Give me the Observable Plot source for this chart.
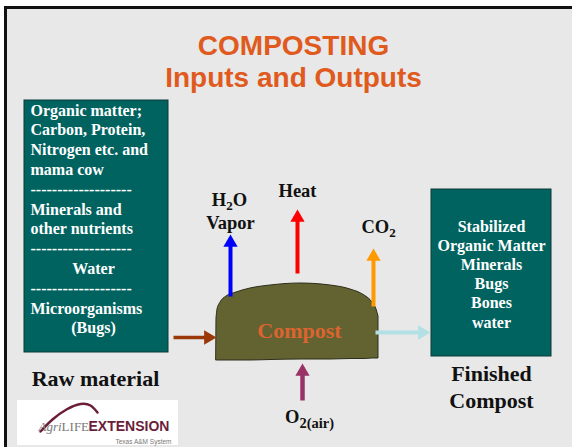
<!DOCTYPE html>
<html><head><meta charset="utf-8">
<script src="https://cdn.jsdelivr.net/npm/d3@7"></script>
<script src="https://cdn.jsdelivr.net/npm/@observablehq/plot@0.6"></script>
<style>html,body{margin:0;padding:0;background:#fff;overflow:hidden}</style>
</head><body><div id="chart"></div>
<script>
// ---- content ----
const titleLines = ["COMPOSTING", "Inputs and Outputs"];
const inputLines = ["Organic matter;", "Carbon, Protein,", "Nitrogen etc. and", "mama cow",
  "-------------------", "Minerals and", "other nutrients", "-------------------",
  "Water", "-------------------", "Microorganisms", "(Bugs)"];
const inputCentered = ["Water", "(Bugs)"];
const outputLines = ["Stabilized", "Organic Matter", "Minerals", "Bugs", "Bones", "water"];
const rawLabel = "Raw material";
const processLabel = "Compost";
const finishedLabel = ["Finished", "Compost"];
const heatLabel = "Heat";
const vaporLabel = "Vapor";
const h2oParts = [["H", false], ["2", true], ["O", false]];
const co2Parts = [["CO", false], ["2", true]];
const o2Parts = [["O", false], ["2(air)", true]];
const logoParts = [["Agri", "italic"], ["LIFE", "normal"]];
const logoWord = "EXTENSION";
const logoSub = "Texas A&M System";

// ---- diagram geometry ----
const moundX = [216, 217, 220, 226, 236, 250, 270, 300, 330, 350, 364, 372, 376, 378];
const moundTop = [318, 309, 302, 296, 292, 288, 285, 283, 285, 289, 295, 302, 309, 316];
const moundBottom = [360, 360, 360, 360, 360, 360, 359.5, 359, 359, 358.5, 358.5, 358, 358, 358];
const arrows = [
  {id: "input", x1: 173, y1: 337, x2: 216, y2: 337, w: 3.5},
  {id: "h2o", x1: 230, y1: 296, x2: 230, y2: 234, w: 4},
  {id: "heat", x1: 297, y1: 273, x2: 297, y2: 209, w: 4},
  {id: "co2", x1: 373, y1: 306, x2: 373, y2: 248, w: 4},
  {id: "output", x1: 375, y1: 332, x2: 430, y2: 332, w: 4},
  {id: "o2", x1: 302, y1: 400, x2: 302, y2: 363, w: 4.5}
];
const arrowColors = {input: "#9a3808", h2o: "#0000ff", heat: "#ff0000", co2: "#ff9900", output: "#b2e0e4", o2: "#993366"};
const logoArc = [[40, 431], [52, 419], [66, 409], [80, 403.5], [90, 405], [97, 412]];

// ---- layout helpers ----
const ctx = document.createElement("canvas").getContext("2d");
function measure(t, font) { ctx.font = font; return ctx.measureText(t).width; }
const SERIF = "Liberation Serif, Times New Roman, serif";
const SANS = "Liberation Sans, Arial, sans-serif";

function partsLayout(parts, startX, baseY, bigSize, subSize, subDrop) {
  let x = startX; const out = [];
  for (const [t, sub] of parts) {
    const size = sub ? subSize : bigSize;
    out.push({t, x, y: sub ? baseY + subDrop : baseY, size});
    x += measure(t, `bold ${size}px ${SERIF}`);
  }
  return out;
}
function partsWidth(parts, bigSize, subSize) {
  return d3.sum(parts, ([t, sub]) => measure(t, `bold ${sub ? subSize : bigSize}px ${SERIF}`));
}
const h2oW = partsWidth(h2oParts, 18.5, 13);
const co2W = partsWidth(co2Parts, 18.5, 13);
const o2W = partsWidth(o2Parts, 18.5, 14.5);
const gasText = [
  ...partsLayout(h2oParts, 229 - h2oW / 2, 205, 18.5, 13, 4),
  ...partsLayout(co2Parts, 378 - co2W / 2, 232, 18.5, 13, 4),
  ...partsLayout(o2Parts, 309 - o2W / 2, 422, 18.5, 14.5, 5)
];

// arrowheads as triangle symbols
const R = 5.3;
const K = Math.sqrt(Math.PI * R * R / (3 * Math.sqrt(3)));
const heads = arrows.map(a => {
  const dx = a.x2 - a.x1, dy = a.y2 - a.y1, L = Math.hypot(dx, dy);
  const ux = dx / L, uy = dy / L;
  return {id: a.id, x: a.x2 - ux * 2 * K, y: a.y2 - uy * 2 * K,
    angle: Math.atan2(uy, ux) * 180 / Math.PI + 90};
});
const shafts = arrows.map(a => {
  const h = heads.find(d => d.id === a.id);
  return {...a, ex: h.x, ey: h.y};
});

// logo text layout
let lx = 38; const logoText = [];
for (const [t, style] of logoParts) {
  logoText.push({t, x: lx, style});
  lx += measure(t, `${style} 13px ${SERIF}`);
}

const mound = moundX.map((x, i) => ({x, top: moundTop[i], bottom: moundBottom[i]}));
const rowsIn = inputLines.map((t, i) => ({t, i, centered: inputCentered.includes(t)}));
const textBase = {fontFamily: SERIF, fontWeight: "bold", lineAnchor: "bottom"};

const chart = Plot.plot({
  width: 573, height: 447, margin: 0,
  x: {domain: [0, 573], range: [0, 573], axis: null},
  y: {domain: [0, 447], range: [0, 447], axis: null},
  color: {type: "identity"},
  style: {background: "#ffffff"},
  marks: [
    // frame
    Plot.rect([{x1: 4, x2: 572, y1: 6, y2: 447}], {x1: "x1", x2: "x2", y1: "y1", y2: "y2", fill: "#111"}),
    Plot.rect([{x1: 7, x2: 572, y1: 9, y2: 447}], {x1: "x1", x2: "x2", y1: "y1", y2: "y2", fill: "#e7e8e7"}),
    // title
    Plot.text(titleLines, {x: () => 293, y: (d, i) => [54, 86][i], text: d => d,
      fontFamily: SANS, fontWeight: "bold", fontSize: 28, fill: "#e05a1e", lineAnchor: "bottom"}),
    // boxes
    Plot.rect([{x1: 24, x2: 168, y1: 100, y2: 352}, {x1: 431, x2: 551, y1: 189, y2: 356}],
      {x1: "x1", x2: "x2", y1: "y1", y2: "y2", fill: "#00635f", stroke: "#0b3a37", strokeWidth: 1}),
    Plot.text(rowsIn.filter(d => !d.centered), {x: () => 30, y: d => 115 + d.i * 19.8, text: "t",
      textAnchor: "start", fontSize: 16, fill: "#ffffff", ...textBase}),
    Plot.text(rowsIn.filter(d => d.centered), {x: () => 93, y: d => 115 + d.i * 19.8, text: "t",
      textAnchor: "middle", fontSize: 16, fill: "#ffffff", ...textBase}),
    Plot.text(outputLines, {x: () => 491, y: (d, i) => 231 + i * 19.2, text: d => d,
      fontSize: 16, fill: "#ffffff", ...textBase}),
    // mound
    Plot.area(mound, {x1: "x", y1: "bottom", y2: "top", curve: "monotone-x",
      fill: "#636332", stroke: "#2e2e1a", strokeWidth: 1}),
    Plot.text([processLabel], {x: () => 299, y: () => 337, text: d => d,
      fontSize: 22, fill: "#dc6430", ...textBase}),
    // arrows
    Plot.link(shafts, {x1: "x1", y1: "y1", x2: "ex", y2: "ey", stroke: d => arrowColors[d.id],
      strokeWidth: d => d.w, strokeLinecap: "butt"}),
    Plot.dot(heads, {x: "x", y: "y", symbol: "triangle", r: R, rotate: "angle",
      fill: d => arrowColors[d.id], stroke: "none"}),
    // gas labels
    Plot.text(gasText, {x: "x", y: "y", text: "t", fontSize: d => d.size, textAnchor: "start",
      fill: "#111", ...textBase}),
    Plot.text([heatLabel], {x: () => 297, y: () => 196, text: d => d,
      fontSize: 18.5, fill: "#111", ...textBase}),
    Plot.text([vaporLabel], {x: () => 230, y: () => 228, text: d => d,
      fontSize: 18.5, fill: "#111", ...textBase}),
    // stage labels
    Plot.text([rawLabel], {x: () => 95, y: () => 385, text: d => d,
      fontSize: 22, fill: "#111", ...textBase}),
    Plot.text(finishedLabel, {x: () => 491, y: (d, i) => [380, 407][i], text: d => d,
      fontSize: 22, fill: "#111", ...textBase}),
    // logo
    Plot.rect([{x1: 17, x2: 178, y1: 400, y2: 445}], {x1: "x1", x2: "x2", y1: "y1", y2: "y2", fill: "#ffffff"}),
    Plot.line(logoArc, {x: d => d[0], y: d => d[1], curve: "natural", stroke: "#6b1e3a", strokeWidth: 2.5}),
    Plot.text(logoText.filter(d => d.style === "italic"), {x: "x", y: () => 430, text: "t", fontStyle: "italic",
      textAnchor: "start", fontFamily: SERIF, fontSize: 13, fill: "#7a7a7a", lineAnchor: "bottom"}),
    Plot.text(logoText.filter(d => d.style !== "italic"), {x: "x", y: () => 430, text: "t",
      textAnchor: "start", fontFamily: SERIF, fontSize: 13, fill: "#7a7a7a", lineAnchor: "bottom"}),
    Plot.text([logoWord], {x: () => 88, y: () => 430, text: d => d, textAnchor: "start",
      fontFamily: SANS, fontWeight: "bold", fontSize: 14, fill: "#6b1e3a", lineAnchor: "bottom"}),
    Plot.text([logoSub], {x: () => 171, y: () => 443, text: d => d, textAnchor: "end",
      fontFamily: SANS, fontSize: 6.5, fill: "#777", lineAnchor: "bottom"})
  ]
});
document.getElementById("chart").appendChild(chart);
</script></body></html>
